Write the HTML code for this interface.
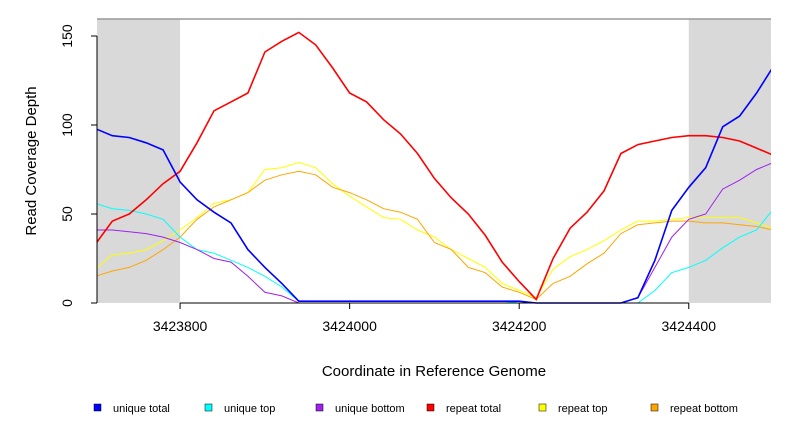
<!DOCTYPE html>
<html><head><meta charset="utf-8"><style>
html,body{margin:0;padding:0;background:#fff}
svg{display:block;font-family:"Liberation Sans",sans-serif}
</style></head><body>
<svg id="chart" width="792" height="432" viewBox="0 0 792 432" xmlns="http://www.w3.org/2000/svg">
<g id="bg"></g><g id="series"></g><g id="axes"></g><g id="legend"></g>
</svg>
<script>
const coords = [];
for (let c = 3423700; c <= 3424500; c += 20) coords.push(c);
const uniqueTotal = [98,94,93,90,86,68,58,51,45,30,20,11,1,1,1,1,1,1,1,1,1,1,1,1,1,1,0,0,0,0,0,0,3,24,52,65,76,99,105,118,133];
const uniqueTop = [56,53,52,50,47,37,30,28,24,20,15,9,1,1,1,1,1,1,1,1,1,1,1,1,1,0,0,0,0,0,0,0,0,7,17,20,24,31,37,41,53];
const uniqueBottom = [41,41,40,39,37,34,30,25,23,15,6,4,0,0,0,0,0,0,0,0,0,0,0,0,0,0,0,0,0,0,0,0,3,20,37,47,50,64,69,75,79];
const repeatTotal = [33,46,50,58,67,74,90,108,113,118,141,147,152,145,132,118,113,103,95,84,70,59,50,38,23,12,2,25,42,51,63,84,89,91,93,94,94,93,91,87,83];
const repeatTop = [19,27,28,30,35,41,48,56,58,62,75,76,79,76,67,60,54,48,47,41,37,30,25,20,11,7,3,19,26,30,35,41,46,46,47,48,48,48,48,45,42];
const repeatBottom = [15,18,20,24,30,37,47,54,58,62,69,72,74,72,65,62,58,53,51,47,34,30,20,17,9,6,2,11,15,22,28,39,44,45,46,46,45,45,44,43,41];
const xTicks = [3423800,3424000,3424200,3424400];
const yTicks = [0,50,100,150];
const seriesNames = ["unique total","unique top","unique bottom","repeat total","repeat top","repeat bottom"];
const seriesColors = ["#0000ff","#00ffff","#a020f0","#ff0000","#ffff00","#ffa500"];

const L=97,R=771,T=19,B=303;
const X0=3423702, X1=3424497;
function sx(v){return L+(v-X0)*(R-L)/(X1-X0);}
function sy(v){return 303-v*(303-36)/150;}
const NS="http://www.w3.org/2000/svg";
function mk(tag,attrs,parent){const e=document.createElementNS(NS,tag);for(const k in attrs)e.setAttribute(k,attrs[k]);parent.appendChild(e);return e;}
const bg=document.getElementById('bg'),sg=document.getElementById('series'),ax=document.getElementById('axes'),lg=document.getElementById('legend');

let r1=mk('rect',{x:L,y:T,width:sx(3423800)-L,height:B-T,fill:'#d9d9d9'},bg);


let r2=mk('rect',{x:sx(3424400),y:T,width:R-sx(3424400),height:B-T,fill:'#d9d9d9'},bg);


let tb=mk('line',{x1:L,y1:T,x2:R,y2:T,stroke:'#999',"stroke-width":1.5},bg);



const cp=mk('clipPath',{id:'clip'},sg);mk('rect',{x:L,y:T,width:R-L,height:B-T+2},cp);
const all=[uniqueTotal,uniqueTop,uniqueBottom,repeatTotal,repeatTop,repeatBottom];
const widths=[1.6,1,1,1.6,1,1];
const order=[4,5,1,2,3,0];
order.forEach(i=>{
  const vals=all[i];
  let d='';
  vals.forEach((v,j)=>{d+=(j?'L':'M')+sx(coords[j]).toFixed(1)+','+sy(v).toFixed(1);});
  const p=mk('path',{d:d,fill:'none',stroke:seriesColors[i],"stroke-width":widths[i],"clip-path":'url(#clip)'},sg);
  
  
});

let xa=mk('line',{x1:sx(xTicks[0]),y1:B,x2:sx(xTicks[xTicks.length-1]),y2:B,stroke:'#000'},ax);


xTicks.forEach(t=>{
  mk('line',{x1:sx(t),y1:B,x2:sx(t),y2:B+6,stroke:'#000'},ax);
  const tx=mk('text',{x:sx(t),y:B+28,"text-anchor":'middle',"font-size":14},ax);
  tx.textContent=t;
  
  
});
let ya=mk('line',{x1:L,y1:sy(0),x2:L,y2:sy(150),stroke:'#000'},ax);


yTicks.forEach(t=>{
  mk('line',{x1:L,y1:sy(t),x2:L-6,y2:sy(t),stroke:'#000'},ax);
  const tx=mk('text',{x:72,y:sy(t),"text-anchor":'middle',"font-size":14,transform:`rotate(-90 72 ${sy(t)})`},ax);
  tx.textContent=t;
  
  
});
let xt=mk('text',{x:434,y:376,"text-anchor":'middle',"font-size":15},ax);
xt.textContent='Coordinate in Reference Genome';


let yt=mk('text',{x:36,y:161,"text-anchor":'middle',"font-size":15,transform:'rotate(-90 36 161)'},ax);
yt.textContent='Read Coverage Depth';



const legX=[94,205,316,427,539,651];
seriesNames.forEach((n,i)=>{
  const g=mk('g',{},lg);
  
  
  mk('rect',{x:legX[i],y:404,width:7,height:7,fill:seriesColors[i],stroke:'#000',"stroke-width":0.5},g);
  const t=mk('text',{x:legX[i]+19,y:412,"font-size":11},g);
  t.textContent=n;
});
</script>
</body></html>
